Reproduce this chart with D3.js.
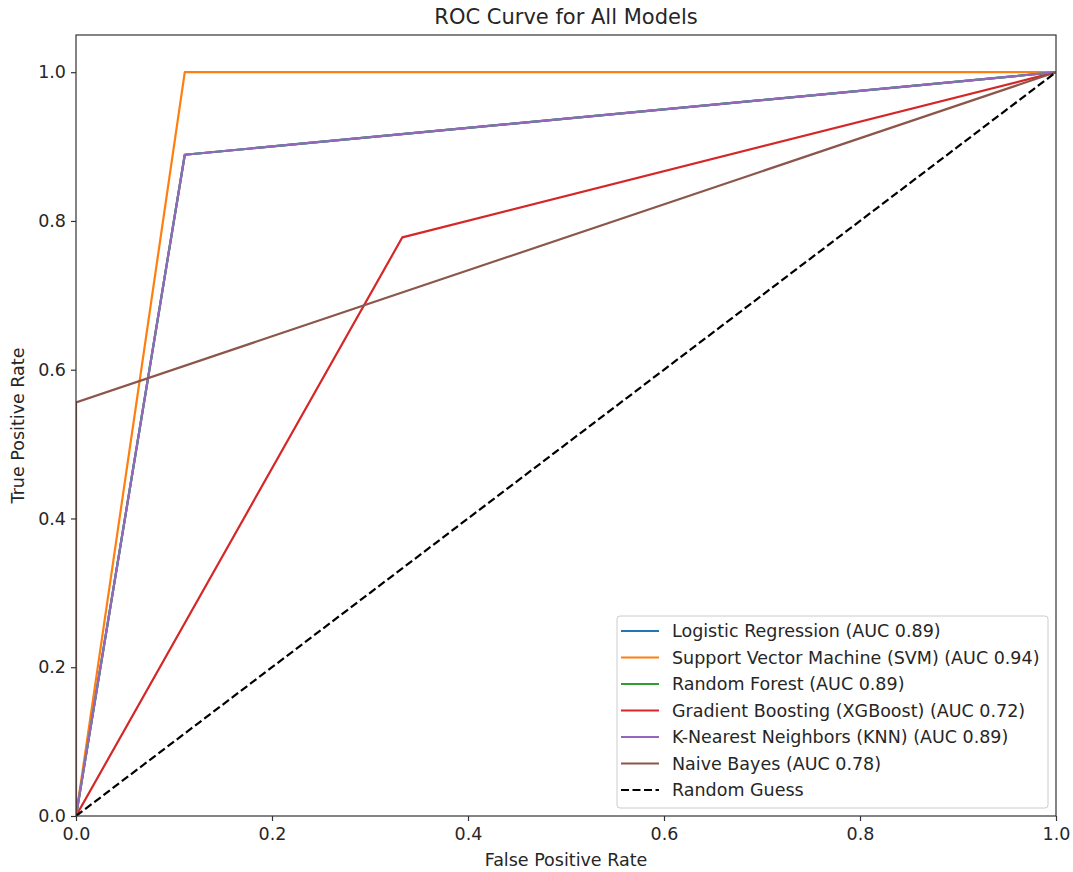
<!DOCTYPE html>
<html>
<head>
<meta charset="utf-8">
<script src="https://cdn.jsdelivr.net/npm/d3@7"></script>
<style>
  body { margin: 0; background: #fff; }
  text { font-family: "DejaVu Sans", sans-serif; fill: #262626; }
</style>
</head>
<body>
<script>
// model names, colours and ROC points
const models = [
    "Logistic Regression (AUC 0.89)",
    "Support Vector Machine (SVM) (AUC 0.94)",
    "Random Forest (AUC 0.89)",
    "Gradient Boosting (XGBoost) (AUC 0.72)",
    "K-Nearest Neighbors (KNN) (AUC 0.89)",
    "Naive Bayes (AUC 0.78)"
];
const colors = ["#1f77b4", "#ff7f0e", "#2ca02c", "#d62728", "#9467bd", "#8c564b"];
const fpr = [
    [0, 0.111, 1],
    [0, 0.111, 1],
    [0, 0.111, 1],
    [0, 0.333, 1],
    [0, 0.111, 1],
    [0, 0, 1]
];
const tpr = [
    [0, 0.889, 1],
    [0, 1, 1],
    [0, 0.889, 1],
    [0, 0.778, 1],
    [0, 0.889, 1],
    [0, 0.556, 1]
];
const guess = [[0, 0], [1, 1]];
const ticks = [0, 0.2, 0.4, 0.6, 0.8, 1.0];

const width = 1073, height = 872;
const margin = {top: 35, right: 16, bottom: 56, left: 76};

const svg = d3.select("body").append("svg")
    .attr("width", width)
    .attr("height", height);

const x = d3.scaleLinear()
    .domain([0, 1])
    .range([margin.left, width - margin.right - 1]);

const y = d3.scaleLinear()
    .domain([0, 1.05])
    .range([height - margin.bottom, margin.top]);

const line = d3.line()
    .x(d => x(d[0]))
    .y(d => y(d[1]));

svg.append("clipPath").attr("id", "clip")
    .append("rect")
    .attr("x", x(0)).attr("y", y(1.05))
    .attr("width", x(1) - x(0)).attr("height", y(0) - y(1.05));

const plot = svg.append("g").attr("clip-path", "url(#clip)");

models.forEach((m, i) => {
    const pts = fpr[i].map((f, j) => [f, tpr[i][j]]);
    plot.append("path")
        .datum(pts)
        .attr("fill", "none")
        .attr("stroke", colors[i])
        .attr("stroke-width", 2.2)
        .attr("stroke-linejoin", "round")
        .attr("d", line);
});

plot.append("path")
    .datum(guess)
    .attr("fill", "none")
    .attr("stroke", "#000")
    .attr("stroke-width", 2.2)
    .attr("stroke-dasharray", "8,3.5")
    .attr("d", line);

// axes
const xAxis = svg.append("g")
    .attr("transform", `translate(0,${y(0)})`)
    .call(d3.axisBottom(x).tickValues(ticks).tickFormat(d3.format(".1f")).tickSize(5).tickPadding(4));
const yAxis = svg.append("g")
    .attr("transform", `translate(${x(0)},0)`)
    .call(d3.axisLeft(y).tickValues(ticks).tickFormat(d3.format(".1f")).tickSize(5).tickPadding(5));

[xAxis, yAxis].forEach(g => {
    g.select(".domain").remove();
    g.selectAll(".tick line").attr("stroke", "#333").attr("stroke-width", 1.2);
    g.selectAll(".tick text").style("font-size", "17.5px").attr("fill", "#262626");
});
xAxis.selectAll(".tick text").attr("dy", "0.85em");

svg.append("rect")
    .attr("x", x(0)).attr("y", y(1.05))
    .attr("width", x(1) - x(0)).attr("height", y(0) - y(1.05))
    .attr("fill", "none")
    .attr("stroke", "#333")
    .attr("stroke-width", 1.2);

svg.append("text")
    .attr("x", (x(0) + x(1)) / 2)
    .attr("y", 24)
    .attr("text-anchor", "middle")
    .style("font-size", "21px")
    .text("ROC Curve for All Models");

svg.append("text")
    .attr("x", (x(0) + x(1)) / 2)
    .attr("y", 866)
    .attr("text-anchor", "middle")
    .style("font-size", "17.5px")
    .text("False Positive Rate");

svg.append("text")
    .attr("transform", `translate(24,${(y(0) + y(1.05)) / 2}) rotate(-90)`)
    .attr("text-anchor", "middle")
    .style("font-size", "17.5px")
    .text("True Positive Rate");

// legend
const labels = models.concat(["Random Guess"]);
const lcolors = colors.concat(["#000"]);
const legend = svg.append("g").attr("transform", "translate(617,616)");
legend.append("rect")
    .attr("x", 0).attr("y", 0)
    .attr("width", 431).attr("height", 192)
    .attr("rx", 3)
    .attr("fill", "#fff")
    .attr("fill-opacity", 0.8)
    .attr("stroke", "#ccc");

const item = legend.selectAll("g.item")
    .data(labels)
    .join("g")
    .attr("class", "item")
    .attr("transform", (d, i) => `translate(0,${15 + i * 26.5})`);

item.append("line")
    .attr("x1", 4).attr("x2", 42)
    .attr("stroke", (d, i) => lcolors[i])
    .attr("stroke-width", 2.2)
    .attr("stroke-dasharray", (d, i) => i === 6 ? "8,3.5" : null);

item.append("text")
    .attr("x", 55)
    .attr("dy", "0.35em")
    .style("font-size", "17.5px")
    .text(d => d);
</script>
</body>
</html>
